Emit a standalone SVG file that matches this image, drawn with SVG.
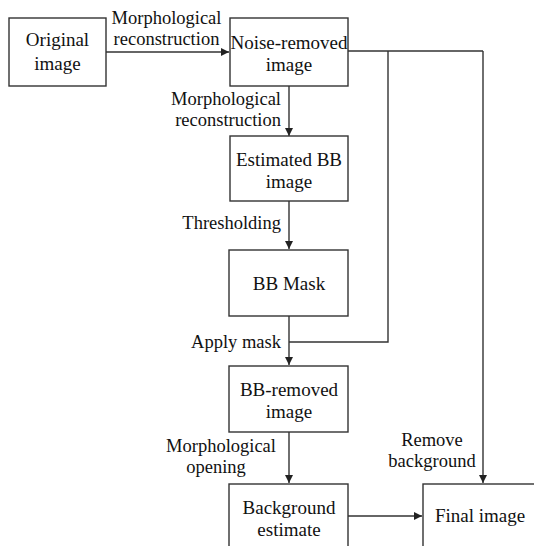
<svg xmlns="http://www.w3.org/2000/svg" width="534" height="546" viewBox="0 0 534 546">
<defs>
<style>
.box{fill:#fff;stroke:#333;stroke-width:1.4}
.ln{fill:none;stroke:#333;stroke-width:1.4}
text{font-family:"Liberation Serif","Times New Roman",serif;font-size:19px;fill:#111}
.lb{font-size:18.5px}
.m{text-anchor:middle}
.e{text-anchor:end}
</style>
<marker id="ah" viewBox="0 0 10 10" refX="10" refY="5" markerWidth="8" markerHeight="8" markerUnits="userSpaceOnUse" orient="auto">
<path d="M0,0 L10,5 L0,10 z" fill="#222"/>
</marker>
</defs>
<rect width="534" height="546" fill="#fff"/>
<g id="connectors">
<path class="ln" d="M106,52 H229" marker-end="url(#ah)"/>
<path class="ln" d="M348,51 H483"/>
<path class="ln" d="M388,51 V342 H289"/>
<path class="ln" d="M483,51 V483" marker-end="url(#ah)"/>
<path class="ln" d="M289,86 V136" marker-end="url(#ah)"/>
<path class="ln" d="M289,201 V249" marker-end="url(#ah)"/>
<path class="ln" d="M289,316 V365" marker-end="url(#ah)"/>
<path class="ln" d="M289,432 V483" marker-end="url(#ah)"/>
<path class="ln" d="M348,516 H422" marker-end="url(#ah)"/>
</g>
<g id="labels">
<text class="m lb" x="166.5" y="24">Morphological</text>
<text class="m lb" x="166.5" y="45">reconstruction</text>
<text class="e lb" x="281" y="105">Morphological</text>
<text class="e lb" x="281" y="126">reconstruction</text>
<text class="e lb" x="281" y="229">Thresholding</text>
<text class="e lb" x="281" y="348">Apply mask</text>
<text class="m lb" x="221" y="452">Morphological</text>
<text class="m lb" x="216" y="473">opening</text>
<text class="m lb" x="432" y="446">Remove</text>
<text class="m lb" x="432" y="467">background</text>
</g>
<g id="original">
<rect class="box" x="9" y="18" width="97" height="68"/>
<text class="m" x="57.5" y="46">Original</text>
<text class="m" x="57.5" y="70">image</text>
</g>
<g id="noise-removed">
<rect class="box" x="230" y="18" width="118" height="68"/>
<text class="m" x="289" y="49">Noise-removed</text>
<text class="m" x="289" y="71">image</text>
</g>
<g id="estimated-bb">
<rect class="box" x="230" y="136" width="118" height="65"/>
<text class="m" x="289" y="166">Estimated BB</text>
<text class="m" x="289" y="188">image</text>
</g>
<g id="bb-mask">
<rect class="box" x="229" y="250" width="119" height="66"/>
<text class="m" x="289" y="290">BB Mask</text>
</g>
<g id="bb-removed">
<rect class="box" x="229" y="366" width="119" height="66"/>
<text class="m" x="289" y="396">BB-removed</text>
<text class="m" x="289" y="418">image</text>
</g>
<g id="background-estimate">
<rect class="box" x="229" y="484" width="119" height="72"/>
<text class="m" x="289" y="514">Background</text>
<text class="m" x="289" y="536">estimate</text>
</g>
<g id="final-image">
<rect class="box" x="423" y="484" width="125" height="72"/>
<text class="m" x="480" y="522">Final image</text>
</g>
</svg>
